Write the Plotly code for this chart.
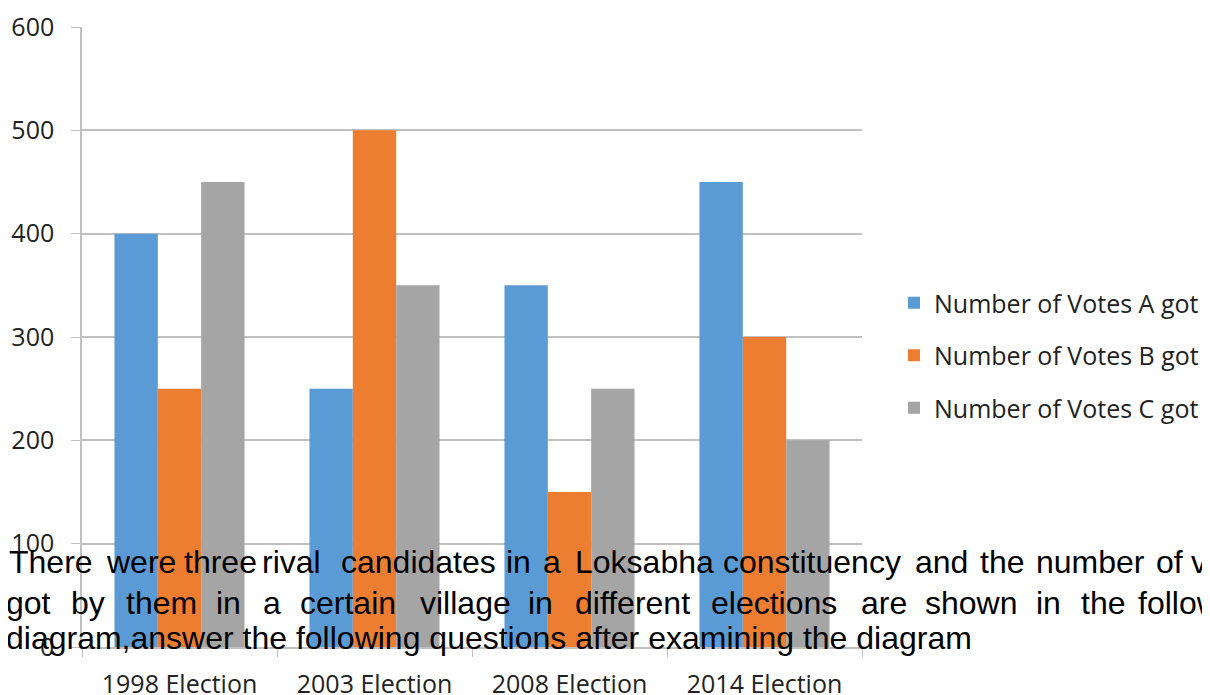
import plotly.graph_objects as go

# ---- data ----
categories = ["1998 Election", "2003 Election", "2008 Election", "2014 Election"]
votes_a = [400, 250, 350, 450]
votes_b = [250, 500, 150, 300]
votes_c = [450, 350, 250, 200]
series_names = ["Number of Votes A got", "Number of Votes B got", "Number of Votes C got"]
y_ticks = [0, 100, 200, 300, 400, 500, 600]

# overlay paragraph (justified lines, word by word)
line1_words = ["There", "were", "three", "rival", "candidates", "in", "a", "Loksabha",
               "constituency", "and", "the", "number", "of", "votes"]
line1_x = [11, 108, 186, 264, 343, 508, 545, 577, 725, 917, 982, 1038, 1158, 1193]
line2_words = ["got", "by", "them", "in", "a", "certain", "village", "in", "different",
               "elections", "are", "shown", "in", "the", "following"]
line2_x = [8, 73, 128, 218, 265, 302, 422, 530, 577, 713, 863, 927, 1038, 1083, 1140]
line3_text = "diagram,answer the following questions after examining the diagram"

# ---- layout geometry (reference pixel coordinates; page body has an 8px margin) ----
OFF = 8
W, H = 1210 - OFF, 695 - OFF
PLOT_L, PLOT_R, PLOT_T, PLOT_B = 82, 862, 27, 647
ML, MR = PLOT_L - OFF, W - (PLOT_R - OFF)
MT, MB = PLOT_T - OFF, H - (PLOT_B - OFF)
PW, PH = PLOT_R - PLOT_L, PLOT_B - PLOT_T

def px(xp):
    return (xp - PLOT_L) / PW

def py(yp):
    return (PLOT_B - yp) / PH

colors = ["#5B9BD5", "#ED7D31", "#A5A5A5"]
label_font = dict(family="Open Sans, Lato, sans-serif", size=25, color="#222222")

fig = go.Figure()
for i, (name, vals) in enumerate(zip(series_names, [votes_a, votes_b, votes_c])):
    fig.add_trace(go.Bar(x=categories, y=vals, name=name, marker_color=colors[i],
                         marker_line_width=0, legendgroup=name))

annotations = []
text_font = dict(family="Liberation Sans, Arial, sans-serif", size=32, color="#000000")
for w, xp in zip(line1_words, line1_x):
    annotations.append(dict(text=w, x=px(xp - 4), y=py(562), xref="paper", yref="paper",
                            xanchor="left", yanchor="middle", showarrow=False, font=text_font))
for w, xp in zip(line2_words, line2_x):
    annotations.append(dict(text=w, x=px(xp - 4), y=py(603), xref="paper", yref="paper",
                            xanchor="left", yanchor="middle", showarrow=False, font=text_font))
annotations.append(dict(text=line3_text, x=px(4), y=py(638), xref="paper", yref="paper",
                        xanchor="left", yanchor="middle", showarrow=False, font=text_font))

fig.update_layout(
    width=W, height=H,
    margin=dict(l=ML, r=MR, t=MT, b=MB, autoexpand=False),
    paper_bgcolor="white", plot_bgcolor="white",
    barmode="group", bargap=0.333, bargroupgap=0,
    showlegend=True,
    legend=dict(x=px(894), y=py(280), xanchor="left", yanchor="top",
                font=label_font, tracegroupgap=17, traceorder="grouped",
                bgcolor="rgba(0,0,0,0)"),
    xaxis=dict(type="category", showline=True, linecolor="#c0c0c0", linewidth=1.5,
               ticks="outside", tickson="boundaries", ticklen=8, tickcolor="#c0c0c0",
               tickfont=label_font, ticklabelstandoff=14, showgrid=False, automargin=False),
    yaxis=dict(range=[0, 600], tickvals=y_ticks, showline=True, linecolor="#c0c0c0",
               linewidth=1.5, ticks="outside", ticklen=9, tickcolor="#c0c0c0",
               showgrid=True, gridcolor="#c0c0c0", gridwidth=1.5, zeroline=False,
               tickfont=label_font, ticklabelstandoff=12, automargin=False),
    annotations=annotations,
)

fig.write_html("out.html")
